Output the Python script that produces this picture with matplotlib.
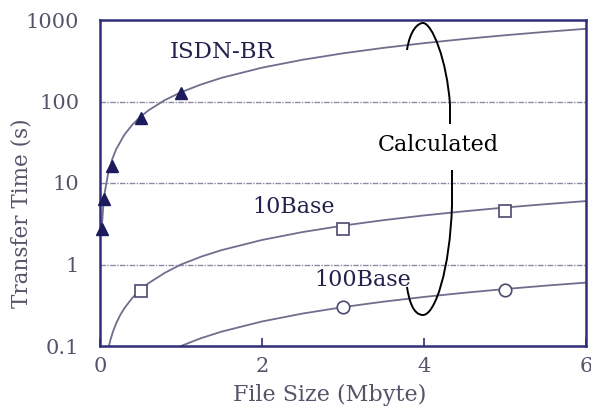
import numpy as np
import matplotlib
matplotlib.use('Agg')
import matplotlib.pyplot as plt
from matplotlib.path import Path
from matplotlib.patches import PathPatch

# measured points
isdn_x = [0.02, 0.05, 0.15, 0.5, 1.0]
isdn_y = [2.7, 6.3, 16, 63, 127]
base10_x = [0.5, 3.0, 5.0]
base10_y = [0.47, 2.7, 4.5]
base100_x = [3.0, 5.0]
base100_y = [0.30, 0.49]

# calculated curves
isdn_cx = [0.02, 0.04, 0.06, 0.1, 0.15, 0.2, 0.3, 0.4, 0.5, 0.6, 0.8, 1.0, 1.25,
           1.5, 2.0, 2.5, 3.0, 3.5, 4.0, 4.5, 5.0, 5.5, 6.0]
isdn_cy = [2.6, 5.2, 7.8, 13, 19.5, 26, 39, 52, 65, 78, 104, 130, 162,
           195, 260, 325, 390, 455, 520, 585, 650, 715, 780]
base10_cx = [0.11, 0.13, 0.16, 0.2, 0.25, 0.3, 0.4, 0.5, 0.6, 0.8, 1.0, 1.25,
             1.5, 2.0, 2.5, 3.0, 3.5, 4.0, 4.5, 5.0, 5.5, 6.0]
base10_cy = [0.1, 0.12, 0.15, 0.19, 0.24, 0.29, 0.39, 0.49, 0.59, 0.79, 1.0, 1.25,
             1.5, 2.0, 2.5, 3.0, 3.5, 4.0, 4.5, 5.0, 5.5, 6.0]
base100_cx = [1.0, 1.25, 1.5, 2.0, 2.5, 3.0, 3.5, 4.0, 4.5, 5.0, 5.5, 6.0]
base100_cy = [0.1, 0.125, 0.15, 0.2, 0.25, 0.3, 0.35, 0.4, 0.45, 0.5, 0.55, 0.6]

x_ticks = [0, 2, 4, 6]
y_ticks = [0.1, 1, 10, 100, 1000]
y_labels = ['0.1', '1', '10', '100', '1000']

NAVY = '#2e2e7a'
CURVE = '#6e6e8e'
TXT = '#55556a'
LBL = '#22224d'
FONT = ['DejaVu Serif']

W, H = 591, 409
fig = plt.figure(figsize=[W / 100, H / 100], dpi=100)
ax = fig.add_axes([100 / W, 1 - 346 / H, 486 / W, 326 / H])

ax.set_yscale('log')
ax.set_xlim(0, 6)
ax.set_ylim(0.1, 1000)

for g in [1, 10, 100]:
    ax.axhline(g, color='#8a8aa6', lw=1.0, ls=(0, (4, 1, 1, 1)), zorder=1)

ax.plot(isdn_cx, isdn_cy, color=CURVE, lw=1.3, zorder=2)
ax.plot(base10_cx, base10_cy, color=CURVE, lw=1.3, zorder=2)
ax.plot(base100_cx, base100_cy, color=CURVE, lw=1.3, zorder=2)

ax.plot(isdn_x, isdn_y, ls='none', marker='^', ms=9, color='#1c1c5c',
        clip_on=False, zorder=4)
ax.plot(base10_x, base10_y, ls='none', marker='s', ms=9, mfc='white',
        mec='#4a4a6e', mew=1.2, zorder=4)
ax.plot(base100_x, base100_y, ls='none', marker='o', ms=9, mfc='white',
        mec='#4a4a6e', mew=1.2, zorder=4)

for s in ax.spines.values():
    s.set_color(NAVY)
    s.set_linewidth(1.8)

ax.set_xticks(x_ticks)
ax.set_yticks(y_ticks)
ax.set_yticklabels(y_labels)
ax.minorticks_off()
ax.tick_params(axis='x', direction='in', length=6, width=1.2, color=NAVY,
               pad=8, labelsize=15, labelcolor=TXT)
ax.tick_params(axis='y', length=0, pad=15, labelsize=15, labelcolor=TXT)
for lb in ax.get_xticklabels() + ax.get_yticklabels():
    lb.set_family(FONT)

fig.text(330 / W, 1 - 395 / H, 'File Size (Mbyte)', ha='center', va='center',
         fontsize=16, color=TXT, family=FONT)
fig.text(22 / W, 1 - 213 / H, 'Transfer Time (s)', ha='center', va='center',
         rotation=90, fontsize=15.5, color=TXT, family=FONT)

fig.text(222 / W, 1 - 52 / H, 'ISDN-BR', ha='center', va='center',
         fontsize=16.5, color=LBL, family=FONT)
fig.text(294 / W, 1 - 207 / H, '10Base', ha='center', va='center',
         fontsize=16, color=LBL, family=FONT)
fig.text(363 / W, 1 - 280 / H, '100Base', ha='center', va='center',
         fontsize=16, color=LBL, family=FONT)
fig.text(438 / W, 1 - 145 / H, 'Calculated', ha='center', va='center',
         fontsize=16, color='black', family=FONT)


def fig_pt(px, py):
    return (px / W, 1 - py / H)


upper = [(407, 50), (410, 30), (418, 23), (423, 23),
         (432, 23), (447, 60), (450, 105), (450, 124)]
upper_codes = [Path.MOVETO, Path.CURVE4, Path.CURVE4, Path.CURVE4,
               Path.CURVE4, Path.CURVE4, Path.CURVE4, Path.LINETO]
lower = [(452, 170), (452, 205), (450, 270), (435, 315), (423, 315),
         (413, 315), (409, 300), (407, 287)]
lower_codes = [Path.MOVETO, Path.LINETO, Path.CURVE4, Path.CURVE4, Path.CURVE4,
               Path.CURVE4, Path.CURVE4, Path.CURVE4]
for pts, codes in [(upper, upper_codes), (lower, lower_codes)]:
    p = Path([fig_pt(*q) for q in pts], codes)
    fig.add_artist(PathPatch(p, transform=fig.transFigure, fill=False,
                             edgecolor='black', lw=1.4, zorder=5))

fig.savefig('out.png', dpi=100)
